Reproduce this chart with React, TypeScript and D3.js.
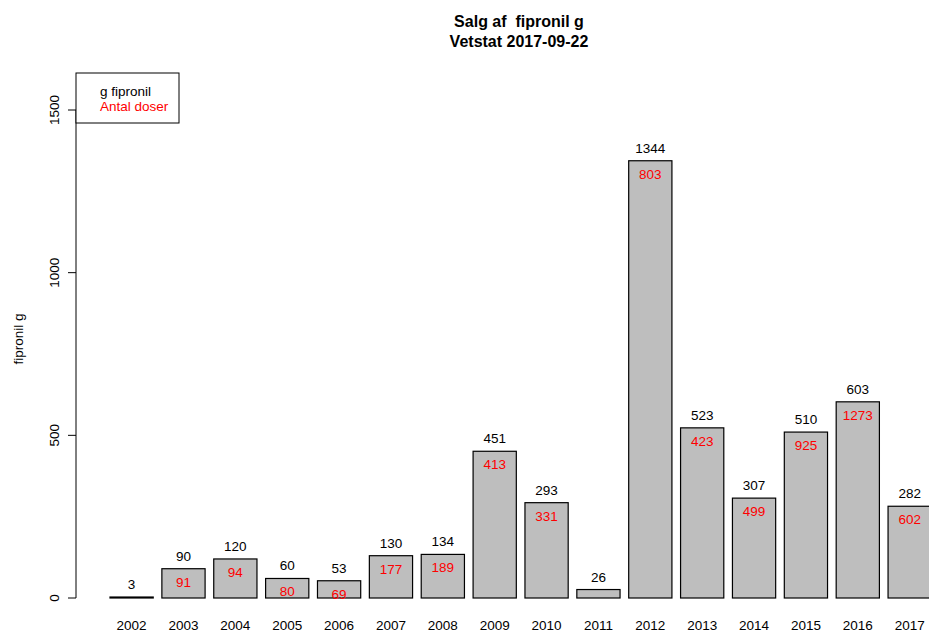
import React from "react";
import * as d3 from "d3";

const years = ["2002","2003","2004","2005","2006","2007","2008","2009","2010","2011","2012","2013","2014","2015","2016","2017"];
const grams = [3, 90, 120, 60, 53, 130, 134, 451, 293, 26, 1344, 523, 307, 510, 603, 282];
const doses: (number | null)[] = [null, 91, 94, 80, 69, 177, 189, 413, 331, null, 803, 423, 499, 925, 1273, 602];
const yTicks = [0, 500, 1000, 1500];

export default function App() {
  const W = 929, H = 632;
  const y = d3.scaleLinear().domain([0, 1500]).range([598, 110]);
  // R barplot style: space 0.2, width 1
  const x = d3.scaleLinear().domain([0, 1.2]).range([0, 51.87]);
  const x0 = 110 - x(0.2);
  const barLeft = (i: number) => x0 + x(0.2 + 1.2 * i);
  const bw = x(1);
  const font = "Liberation Sans, Arial, sans-serif";
  const fs = 13.5;
  return (
    <svg width={W} height={H} style={{ position: "absolute", left: 0, top: 0 }} fontFamily={font}>
      <rect width={W} height={H} fill="#fff" />
      <text x={519} y={27} textAnchor="middle" fontSize={16} fontWeight="bold" style={{ whiteSpace: "pre" }}>{"Salg af  fipronil g"}</text>
      <text x={519} y={47} textAnchor="middle" fontSize={16} fontWeight="bold">Vetstat 2017-09-22</text>
      {/* y axis */}
      <line x1={76} x2={76} y1={y(0)} y2={y(1500)} stroke="#000" />
      {yTicks.map(t => (
        <g key={t}>
          <line x1={68} x2={76} y1={y(t)} y2={y(t)} stroke="#000" />
          <text transform={`translate(59,${y(t)}) rotate(-90)`} textAnchor="middle" fontSize={fs}>{t}</text>
        </g>
      ))}
      <text transform={`translate(23,339) rotate(-90)`} textAnchor="middle" fontSize={fs}>fipronil g</text>
      {years.map((yr, i) => {
        const l = barLeft(i);
        const top = y(grams[i]);
        const cx = l + bw / 2;
        return (
          <g key={yr}>
            <rect x={l} y={top} width={bw} height={y(0) - top} fill="#bebebe" stroke="#000" strokeWidth={1.2} />
            <text x={cx} y={top - 8} textAnchor="middle" fontSize={fs}>{grams[i]}</text>
            {doses[i] != null && (
              <text x={cx} y={top + 18} textAnchor="middle" fontSize={fs} fill="#ff0000">{doses[i]}</text>
            )}
            <text x={cx} y={630} textAnchor="middle" fontSize={fs}>{yr}</text>
          </g>
        );
      })}
      {/* legend */}
      <rect x={76} y={73} width={103} height={50} fill="#fff" stroke="#000" />
      <text x={100} y={96} fontSize={fs}>g fipronil</text>
      <text x={100} y={111} fontSize={fs} fill="#ff0000">Antal doser</text>
    </svg>
  );
}
